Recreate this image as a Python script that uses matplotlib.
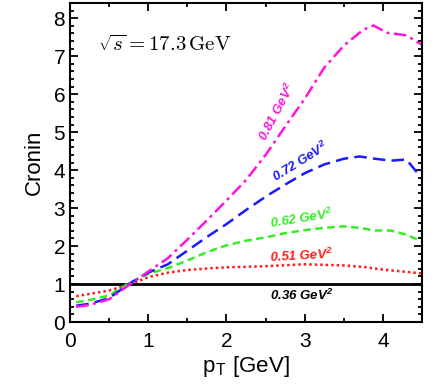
import numpy as np
import matplotlib
matplotlib.use("Agg")
import matplotlib.pyplot as plt
from matplotlib.ticker import MultipleLocator

plt.rcParams['font.family'] = ['Liberation Sans', 'DejaVu Sans']
plt.rcParams['mathtext.fontset'] = 'cm'

# curves (pT in GeV, Cronin ratio)
pt_081 = [0.08, 0.25, 0.5, 0.75, 1.0, 1.25, 1.5, 1.75, 2.0, 2.25, 2.5, 2.75, 3.0, 3.25, 3.5, 3.75, 3.88, 4.05, 4.3, 4.5]
r_081 = [0.40, 0.45, 0.60, 0.97, 1.33, 1.68, 2.17, 2.68, 3.20, 3.74, 4.40, 5.15, 5.88, 6.70, 7.28, 7.70, 7.81, 7.62, 7.55, 7.30]

pt_072 = [0.08, 0.25, 0.5, 0.75, 1.0, 1.25, 1.5, 1.75, 2.0, 2.25, 2.5, 2.75, 3.0, 3.25, 3.5, 3.7, 3.9, 4.1, 4.3, 4.5]
r_072 = [0.43, 0.48, 0.63, 1.00, 1.30, 1.52, 1.88, 2.24, 2.58, 2.95, 3.30, 3.62, 3.92, 4.15, 4.30, 4.36, 4.30, 4.25, 4.28, 3.78]

pt_062 = [0.08, 0.25, 0.5, 0.75, 1.0, 1.25, 1.5, 1.75, 2.0, 2.25, 2.5, 2.75, 3.0, 3.25, 3.5, 3.7, 3.9, 4.1, 4.3, 4.5]
r_062 = [0.52, 0.58, 0.70, 1.02, 1.27, 1.42, 1.62, 1.84, 2.02, 2.14, 2.23, 2.34, 2.42, 2.48, 2.52, 2.48, 2.41, 2.41, 2.30, 2.12]

pt_051 = [0.08, 0.25, 0.5, 0.75, 1.0, 1.25, 1.5, 1.75, 2.0, 2.5, 3.0, 3.5, 3.75, 4.0, 4.25, 4.5]
r_051 = [0.68, 0.74, 0.83, 0.98, 1.18, 1.30, 1.37, 1.41, 1.44, 1.47, 1.52, 1.49, 1.45, 1.38, 1.33, 1.28]

pt_036 = [0.0, 4.5]
r_036 = [1.0, 1.0]

fig = plt.figure(figsize=(4.36, 3.85), dpi=100)
ax = fig.add_axes([0.1606, 0.1636, 0.8074, 0.8284])

ax.plot(pt_036, r_036, color='black', linewidth=2.0)
ax.plot(pt_051, r_051, color='#ff1a1a', linewidth=1.8, linestyle=(0, (1, 1.2)))
ax.plot(pt_062, r_062, color='#33ee22', linewidth=1.8, linestyle=(0, (3, 1.8)))
ax.plot(pt_072, r_072, color='#1a1aff', linewidth=1.8, linestyle=(0, (5, 2.5)))
ax.plot(pt_081, r_081, color='#ff14dc', linewidth=1.8, linestyle=(0, (5, 1.8, 1.2, 1.8)))

# curve labels
lab = dict(fontsize=9.5, fontstyle='italic', fontweight='bold', ha='center', va='center')
ax.text(2.64, 5.55, '0.81 GeV$^\\mathregular{2}$', color='#ff14dc', rotation=62, **lab)
ax.text(2.95, 4.22, '0.72 GeV$^\\mathregular{2}$', color='#1a1aff', rotation=32, **lab)
ax.text(2.96, 2.72, '0.62 GeV$^\\mathregular{2}$', color='#33ee22', rotation=9, **lab)
ax.text(2.96, 1.74, '0.51 GeV$^\\mathregular{2}$', color='#ff1a1a', rotation=3, **lab)
ax.text(2.96, 0.70, '0.36 GeV$^\\mathregular{2}$', color='black', **lab)

ax.text(1.21, 7.30, r'$\sqrt{s} = 17.3\,\mathrm{GeV}$', fontsize=15, ha='center', va='center')

ax.set_xlim(0, 4.5)
ax.set_ylim(0, 8.4)
ax.xaxis.set_major_locator(MultipleLocator(1))
ax.xaxis.set_minor_locator(MultipleLocator(0.5))
ax.yaxis.set_major_locator(MultipleLocator(1))
ax.yaxis.set_minor_locator(MultipleLocator(0.2))
ax.tick_params(which='both', direction='in', top=True, right=True, width=1.3, labelsize=15)
ax.tick_params(which='major', length=6)
ax.tick_params(which='minor', length=3)
ax.tick_params(axis='x', pad=7)
for s in ax.spines.values():
    s.set_linewidth(1.5)

ax.set_xlabel('p$_\\mathregular{T}$ [GeV]', fontsize=16, labelpad=2)
ax.set_ylabel('Cronin', fontsize=16, labelpad=6)

fig.savefig('out.png', dpi=100)
